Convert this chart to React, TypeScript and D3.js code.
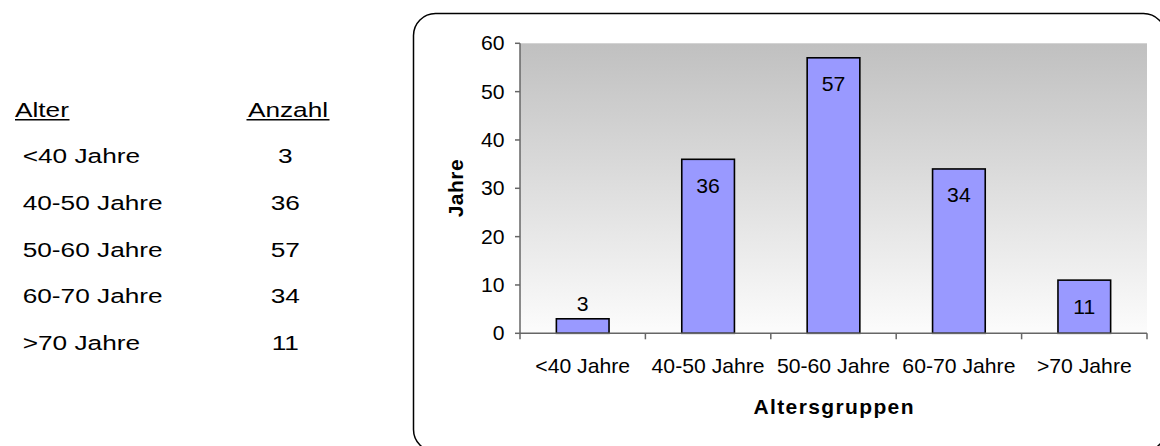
import React from "react";
import * as d3 from "d3";

// Age groups and patient counts
const categories: string[] = ["<40 Jahre", "40-50 Jahre", "50-60 Jahre", "60-70 Jahre", ">70 Jahre"];
const counts: number[] = [3, 36, 57, 34, 11];
const yTicks: number[] = [0, 10, 20, 30, 40, 50, 60];
const tableHeaders: string[] = ["Alter", "Anzahl"];

const W = 1160;
const H = 446;
const plot = { left: 520, right: 1147, top: 43.3, bottom: 333.3 };
const FONT = "'Liberation Sans', Arial, Helvetica, sans-serif";

export default function App() {
  const x = d3.scaleBand<string>().domain(categories).range([plot.left, plot.right]).padding(0);
  const y = d3.scaleLinear().domain([0, 60]).range([plot.bottom, plot.top]);
  const barW = x.bandwidth() * 0.42;
  const sx = 1.06; // horizontal glyph stretch of chart text
  const tsx = 1.28; // horizontal glyph stretch of table text

  const rowY = (i: number) => 163.3 + i * 46.7;

  const stretched = (
    key: string | number,
    tx: number,
    ty: number,
    s: number,
    text: string,
    anchor: "start" | "middle" | "end",
    size: number,
    extra: Record<string, any> = {}
  ) => (
    <g key={key} transform={`translate(${tx},${ty}) scale(${s},1)`}>
      <text x={0} y={0} textAnchor={anchor} fontSize={size} fill="#000" {...extra}>
        {text}
      </text>
    </g>
  );

  return (
    <svg
      width={W}
      height={H}
      style={{ position: "absolute", left: 0, top: 0, background: "#fff" }}
      fontFamily={FONT}
    >
      <defs>
        <linearGradient id="plotBg" x1="0" y1="0" x2="0" y2="1">
          <stop offset="0%" stopColor="#c0c0c0" />
          <stop offset="100%" stopColor="#fcfcfc" />
        </linearGradient>
      </defs>

      {/* Table of age groups */}
      <g>
        {stretched("h0", 15, 116.6, tsx, tableHeaders[0], "start", 20.5)}
        {stretched("h1", 288, 116.6, tsx, tableHeaders[1], "middle", 20.5)}
        <line x1={15} x2={69.5} y1={119.8} y2={119.8} stroke="#000" strokeWidth={1.5} />
        <line x1={246.5} x2={329.5} y1={119.8} y2={119.8} stroke="#000" strokeWidth={1.5} />
        {categories.map((c, i) => stretched(`tc${i}`, 22.7, rowY(i), tsx, c, "start", 20.5))}
        {counts.map((v, i) => stretched(`tv${i}`, 285.3, rowY(i), tsx, String(v), "middle", 20.5))}
      </g>

      {/* Chart frame */}
      <rect x={413.5} y={13.5} width={752} height={438} rx={22} ry={22} fill="none" stroke="#000" strokeWidth={1.5} />

      {/* Plot background */}
      <rect
        x={plot.left}
        y={plot.top}
        width={plot.right - plot.left}
        height={plot.bottom - plot.top}
        fill="url(#plotBg)"
      />

      {/* Bars */}
      {counts.map((v, i) => {
        const cx = (x(categories[i]) as number) + x.bandwidth() / 2;
        return (
          <rect
            key={`b${i}`}
            x={cx - barW / 2}
            y={y(v)}
            width={barW}
            height={y(0) - y(v)}
            fill="#9999ff"
            stroke="#000"
            strokeWidth={1.6}
          />
        );
      })}

      {/* Value labels */}
      {counts.map((v, i) => {
        const cx = (x(categories[i]) as number) + x.bandwidth() / 2;
        const inside = y(0) - y(v) > 40;
        const ly = inside ? y(v) + 33.5 : y(v) - 8;
        return stretched(`vl${i}`, cx, ly, sx, String(v), "middle", 20);
      })}

      {/* Y axis */}
      <line x1={plot.left} x2={plot.left} y1={plot.top} y2={plot.bottom} stroke="#666" strokeWidth={1.5} />
      {yTicks.map((t) => (
        <g key={`yt${t}`}>
          <line x1={plot.left - 5} x2={plot.left} y1={y(t)} y2={y(t)} stroke="#666" strokeWidth={1.5} />
          {stretched(`ytl${t}`, 504.5, y(t) + 7, sx, String(t), "end", 20)}
        </g>
      ))}

      {/* X axis */}
      <line x1={plot.left} x2={plot.right} y1={plot.bottom} y2={plot.bottom} stroke="#666" strokeWidth={1.5} />
      {[...categories.map((c) => x(c) as number), plot.right].map((px, i) => (
        <line key={`xt${i}`} x1={px} x2={px} y1={plot.bottom} y2={plot.bottom + 6} stroke="#666" strokeWidth={1.5} />
      ))}
      {categories.map((c, i) =>
        stretched(`xl${i}`, (x(c) as number) + x.bandwidth() / 2, 372.7, sx, c, "middle", 20)
      )}

      {/* Axis titles */}
      <text
        x={(plot.left + plot.right) / 2}
        y={414.3}
        textAnchor="middle"
        fontSize={21}
        fontWeight="bold"
        textLength={160}
        lengthAdjust="spacing"
      >
        Altersgruppen
      </text>
      <text
        transform={`translate(462.5,${(plot.top + plot.bottom) / 2}) rotate(-90)`}
        textAnchor="middle"
        fontSize={21}
        fontWeight="bold"
        textLength={58}
        lengthAdjust="spacing"
      >
        Jahre
      </text>
    </svg>
  );
}
